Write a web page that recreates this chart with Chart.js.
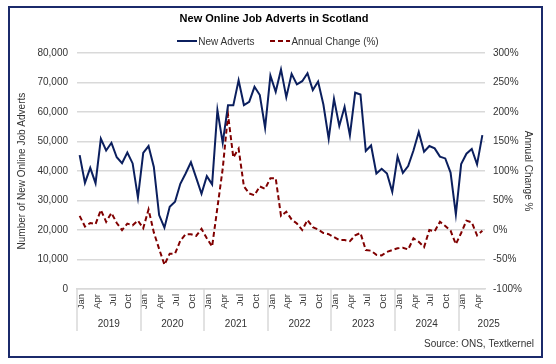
<!DOCTYPE html>
<html>
<head>
<meta charset="utf-8">
<script src="https://cdn.jsdelivr.net/npm/chart.js@4.4.1/dist/chart.umd.min.js"></script>
<style>
  html, body { margin: 0; padding: 0; background: #fff; }
  #wrap { position: relative; width: 556px; height: 364px; font-family: "Liberation Sans", Arial, sans-serif; }
  #frame { position: absolute; left: 8px; top: 6px; width: 531px; height: 348px; border: 2px solid #1b2a6b; pointer-events: none; }
  canvas { position: absolute; left: 0; top: 0; }
  #legend { position: absolute; left: 0; width: 556px; top: 34px; height: 14px; display: flex; justify-content: center; align-items: center; font-size: 10px; color: #333; }
  .item { display: flex; align-items: center; margin: 0 8px; white-space: nowrap; }
  .item svg { margin-right: 1px; }
</style>
</head>
<body>
<div id="wrap">
  <canvas id="jobsChart" width="556" height="364"></canvas>
  <div id="legend"></div>
  <div id="frame"></div>
</div>
<script>
// Données (janvier 2019 - mai 2025)
const monthNames = ['Jan', 'Feb', 'Mar', 'Apr', 'May', 'Jun', 'Jul', 'Aug', 'Sep', 'Oct', 'Nov', 'Dec'];
const years = ['2019', '2020', '2021', '2022', '2023', '2024', '2025'];
const monthsIn2025 = 5;

const newAdverts = [
    45400, 36000, 41100, 35900, 51000, 47000, 49600, 44700, 42700, 46300, 42600, 31000,
    46200, 48500, 41400, 25100, 20800, 27900, 29600, 35700, 39200, 43000, 37700, 32300,
    38300, 35500, 60700, 49600, 62300, 62300, 70800, 62400, 63500, 68600, 65800, 54700,
    72400, 66900, 74500, 65100, 73000, 69400, 70500, 73200, 67500, 70400, 62600, 51000,
    64500, 55300, 61800, 52200, 66600, 66000, 46800, 48700, 39200, 40800, 39200, 33000,
    44900, 39400, 41700, 47000, 53300, 46600, 48500, 47700, 44900, 44300, 39500, 25300,
    42400, 45900, 47500, 42300, 52200
];

const annualChange = [
    24, 6, 12, 10, 34, 14, 29, 12, 0, 11, 8, 16,
    3, 35, -4, -32, -59, -40, -40, -18, -7, -7, -10, 2,
    -14, -28, 38, 104, 196, 123, 138, 74, 62, 59, 74, 70,
    88, 88, 24, 31, 18, 11, 0, 17, 5, 1, -5, -7,
    -12, -17, -17, -19, -9, -5, -34, -35, -42, -43, -37, -34,
    -31, -30, -33, -14, -20, -29, 0, -2, 14, 7, -1, -24,
    -5, 16, 13, -9, -1
];

// Construction des catégories mensuelles
const categories = [];
years.forEach((y, yi) => {
    const n = yi === years.length - 1 ? monthsIn2025 : 12;
    for (let m = 0; m < n; m++) categories.push(monthNames[m] + ' ' + y);
});

// Centres des années sur l'axe secondaire (2025 décalé comme dans Excel)
const yearCentres = years.map((y, yi) => (yi === years.length - 1 ? categories.length + 0.2 : yi * 12 + 5.5));

const textColor = '#333333';
const gridColor = '#d9d9d9';
const fontFamily = '"Liberation Sans", Arial, sans-serif';

// Séparateurs verticaux entre les années, sous l'axe
const yearSeparators = {
    id: 'yearSeparators',
    afterDraw(chart) {
        const x = chart.scales.x;
        const yr = chart.scales.xYears;
        const c = chart.ctx;
        const half = (x.getPixelForValue(1) - x.getPixelForValue(0)) / 2;
        c.save();
        c.strokeStyle = gridColor;
        c.lineWidth = 1.5;
        years.forEach((y, yi) => {
            const px = Math.round(x.getPixelForValue(yi * 12) - half);
            c.beginPath();
            c.moveTo(px, x.top);
            c.lineTo(px, yr.bottom);
            c.stroke();
        });
        c.restore();
    }
};

const ctx = document.getElementById('jobsChart').getContext('2d');
const chart = new Chart(ctx, {
    type: 'line',
    data: {
        labels: categories,
        datasets: [
            {
                label: 'New Adverts',
                data: newAdverts,
                yAxisID: 'y',
                borderColor: '#0b1f5e',
                backgroundColor: 'transparent',
                borderWidth: 2,
                pointRadius: 0,
                tension: 0
            },
            {
                label: 'Annual Change (%)',
                data: annualChange,
                yAxisID: 'y2',
                borderColor: '#800000',
                backgroundColor: 'transparent',
                borderWidth: 2,
                borderDash: [5, 3],
                pointRadius: 0,
                tension: 0
            }
        ]
    },
    plugins: [yearSeparators],
    options: {
        responsive: false,
        animation: false,
        layout: { padding: { left: 14, right: 22, top: 8, bottom: 14 } },
        plugins: {
            title: {
                display: true,
                text: 'New Online Job Adverts in Scotland',
                color: '#000',
                font: { family: fontFamily, size: 11, weight: 'bold' },
                padding: { top: 4, bottom: 28 }
            },
            subtitle: {
                display: true,
                position: 'bottom',
                align: 'end',
                text: 'Source: ONS, Textkernel',
                color: textColor,
                font: { family: fontFamily, size: 10 },
                padding: { top: 7, bottom: 0 }
            },
            legend: { display: false },
            tooltip: { enabled: false }
        },
        scales: {
            x: {
                type: 'category',
                offset: true,
                afterFit: (s) => { s.height = 24; },
                grid: { display: false, drawOnChartArea: false, drawTicks: false },
                border: { display: true, color: gridColor, width: 1.5 },
                ticks: {
                    autoSkip: false,
                    maxRotation: 90,
                    minRotation: 90,
                    padding: 5,
                    labelOffset: 1.5,
                    color: textColor,
                    font: { family: fontFamily, size: 9.5 },
                    callback: function (value, index) {
                        return index % 3 === 0 ? monthNames[index % 12] : '';
                    }
                }
            },
            xYears: {
                type: 'linear',
                position: 'bottom',
                min: -0.5,
                max: categories.length - 0.5,
                afterBuildTicks: (scale) => { scale.ticks = yearCentres.map(v => ({ value: v })); },
                afterFit: (s) => { s.height = 18; },
                grid: { display: false, drawOnChartArea: false, drawTicks: false },
                border: { display: false },
                ticks: {
                    autoSkip: false,
                    maxRotation: 0,
                    padding: 5,
                    color: textColor,
                    font: { family: fontFamily, size: 10 },
                    callback: (value) => {
                        const i = yearCentres.indexOf(value);
                        return i >= 0 ? years[i] : '';
                    }
                }
            },
            y: {
                position: 'left',
                min: 0,
                max: 80000,
                afterFit: (s) => { s.width = 63; },
                grid: { color: gridColor, lineWidth: 1.5, drawTicks: false },
                border: { display: false },
                ticks: {
                    stepSize: 10000,
                    padding: 9,
                    color: textColor,
                    font: { family: fontFamily, size: 10 },
                    callback: (v) => v.toLocaleString('en-GB')
                },
                title: {
                    display: true,
                    text: 'Number of New Online Job Adverts',
                    color: textColor,
                    font: { family: fontFamily, size: 10 },
                    padding: { top: 2, bottom: 0 }
                }
            },
            y2: {
                position: 'right',
                min: -100,
                max: 300,
                afterFit: (s) => { s.width = 49; },
                grid: { drawOnChartArea: false, drawTicks: false },
                border: { display: false },
                ticks: {
                    stepSize: 50,
                    padding: 8,
                    color: textColor,
                    font: { family: fontFamily, size: 10 },
                    callback: (v) => v + '%'
                },
                title: {
                    display: true,
                    text: 'Annual Change %',
                    color: textColor,
                    font: { family: fontFamily, size: 10 },
                    padding: { top: 0, bottom: 0 }
                }
            }
        }
    }
});

// Légende en HTML, construite à partir des jeux de données
const legend = document.getElementById('legend');
chart.data.datasets.forEach(ds => {
    const dash = ds.borderDash ? ds.borderDash.join(',') : 'none';
    legend.innerHTML += `
        <span class="item">
            <svg width="20" height="4"><line x1="0" y1="2" x2="20" y2="2" stroke="${ds.borderColor}" stroke-width="2" stroke-dasharray="${dash}"/></svg>${ds.label}
        </span>`;
});
</script>
</body>
</html>
